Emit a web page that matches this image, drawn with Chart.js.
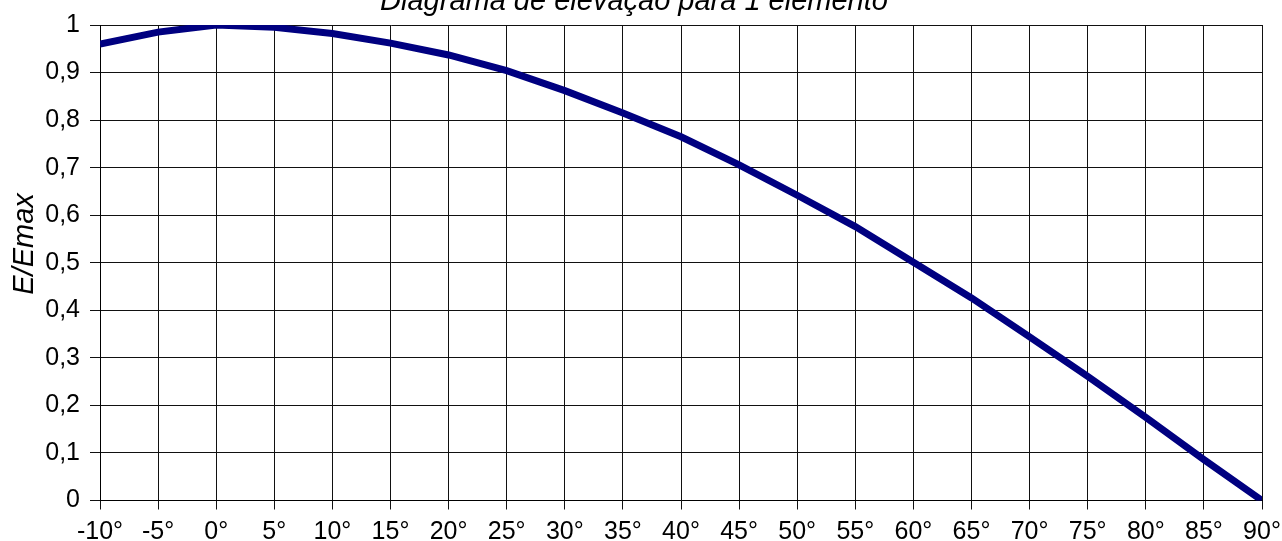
<!DOCTYPE html>
<html>
<head>
<meta charset="utf-8">
<script src="https://cdn.jsdelivr.net/npm/chart.js@4"></script>
<style>
  html, body { margin: 0; padding: 0; background: #fff; }
  #c { display: block; }
</style>
</head>
<body>
<canvas id="c" width="1282" height="541"></canvas>
<script>
const chartTitle = 'Diagrama de elevação para 1 elemento';
const yAxisTitle = 'E/Emax';
const angles = [-10, -5, 0, 5, 10, 15, 20, 25, 30, 35, 40, 45, 50, 55, 60, 65, 70, 75, 80, 85, 90];
const values = [0.96, 0.985, 1.0, 0.995, 0.982, 0.962, 0.937, 0.904, 0.862, 0.815, 0.765, 0.706, 0.642, 0.576, 0.501, 0.426, 0.344, 0.261, 0.175, 0.086, 0.0];
const xTickStep = 5;
const yTickStep = 0.1;

const FONT = '"Liberation Sans", Arial, sans-serif';

const textPlugin = {
  id: 'customTexts',
  afterDraw(chart) {
    const ctx = chart.ctx;
    ctx.save();
    ctx.fillStyle = '#000';
    ctx.font = 'italic 29px ' + FONT;
    ctx.textAlign = 'center';
    ctx.textBaseline = 'alphabetic';
    ctx.fillText(chartTitle, 634, 10);
    ctx.translate(33, 244);
    ctx.rotate(-Math.PI / 2);
    ctx.fillText(yAxisTitle, 0, 0);
    ctx.restore();
  }
};

new Chart(document.getElementById('c'), {
  type: 'line',
  data: {
    datasets: [{
      data: angles.map((a, i) => ({ x: a, y: values[i] })),
      borderColor: '#000080',
      backgroundColor: '#000080',
      borderWidth: 7,
      pointRadius: 0,
      tension: 0,
      fill: false
    }]
  },
  options: {
    responsive: false,
    animation: false,
    devicePixelRatio: 1,
    layout: { padding: { top: 25, right: 20, left: 0, bottom: 0 } },
    plugins: {
      legend: { display: false },
      tooltip: { enabled: false },
      title: { display: false }
    },
    scales: {
      x: {
        type: 'linear',
        min: -10,
        max: 90,
        afterFit(s) { s.height = 40.5; s.paddingLeft = 0; s.paddingRight = 0; },
        ticks: {
          stepSize: xTickStep,
          color: '#000',
          font: { family: FONT, size: 25 },
          padding: 8,
          maxRotation: 0,
          autoSkip: false,
          callback: v => v + '°'
        },
        grid: { color: '#111', lineWidth: 1, tickLength: 9, drawTicks: true },
        border: { color: '#000', width: 1 }
      },
      y: {
        min: 0,
        max: 1,
        afterFit(s) { s.width = 100; s.paddingTop = 0; s.paddingBottom = 0; },
        ticks: {
          stepSize: yTickStep,
          color: '#000',
          font: { family: FONT, size: 25 },
          padding: 10,
          autoSkip: false,
          callback: v => {
            const r = Math.round(v * 10) / 10;
            if (r === 0) return '0';
            if (r === 1) return '1';
            return r.toFixed(1).replace('.', ',');
          }
        },
        grid: { color: '#111', lineWidth: 1, tickLength: 10 },
        border: { color: '#000', width: 1 }
      }
    }
  },
  plugins: [textPlugin]
});
</script>
</body>
</html>
